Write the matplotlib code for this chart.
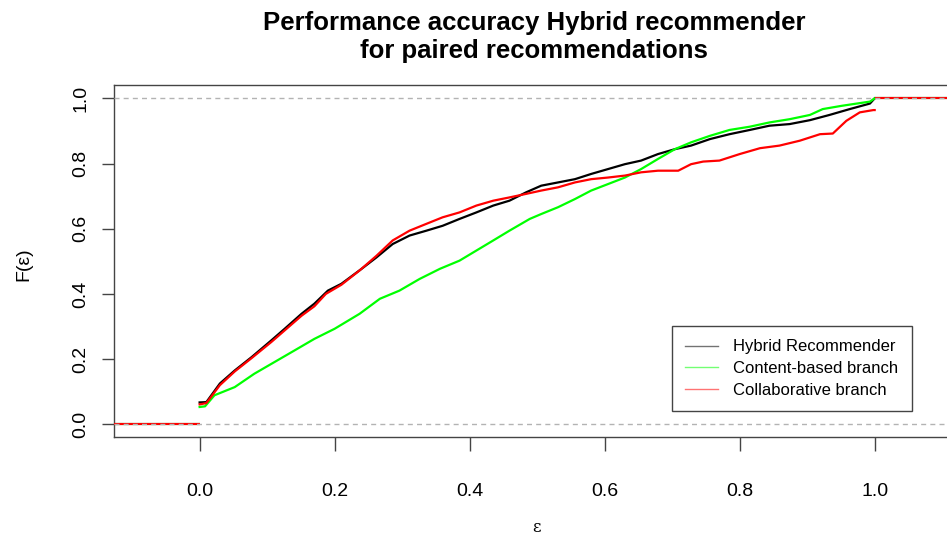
import matplotlib
matplotlib.use("Agg")
import matplotlib.pyplot as plt
from matplotlib.lines import Line2D

# ---------------- data ----------------
hybrid_x = [0.000, 0.010, 0.030, 0.052, 0.077, 0.106, 0.126, 0.151, 0.170, 0.190,
            0.210, 0.240, 0.262, 0.286, 0.311, 0.336, 0.360, 0.385, 0.410, 0.435,
            0.459, 0.484, 0.506, 0.531, 0.556, 0.580, 0.605, 0.630, 0.654, 0.679,
            0.704, 0.728, 0.756, 0.785, 0.815, 0.844, 0.874, 0.904, 0.933, 0.963,
            0.993, 1.000]
hybrid_F = [0.067, 0.068, 0.125, 0.165, 0.206, 0.257, 0.293, 0.339, 0.370, 0.410,
            0.431, 0.477, 0.512, 0.553, 0.579, 0.594, 0.609, 0.630, 0.650, 0.671,
            0.686, 0.712, 0.732, 0.742, 0.752, 0.768, 0.783, 0.798, 0.809, 0.829,
            0.844, 0.855, 0.875, 0.890, 0.903, 0.916, 0.921, 0.933, 0.949, 0.967,
            0.984, 1.000]

content_x = [0.000, 0.008, 0.022, 0.052, 0.081, 0.111, 0.141, 0.170, 0.200, 0.237,
             0.267, 0.296, 0.326, 0.356, 0.385, 0.410, 0.435, 0.459, 0.489, 0.506,
             0.531, 0.556, 0.580, 0.605, 0.630, 0.654, 0.679, 0.704, 0.728, 0.756,
             0.785, 0.815, 0.844, 0.874, 0.904, 0.923, 0.951, 0.993, 1.000]
content_F = [0.053, 0.055, 0.089, 0.114, 0.155, 0.191, 0.227, 0.262, 0.293, 0.339,
             0.385, 0.410, 0.446, 0.477, 0.502, 0.533, 0.564, 0.594, 0.630, 0.645,
             0.666, 0.691, 0.717, 0.737, 0.757, 0.783, 0.814, 0.844, 0.865, 0.885,
             0.903, 0.913, 0.926, 0.936, 0.949, 0.967, 0.977, 0.990, 1.000]

collab_x = [0.000, 0.010, 0.030, 0.052, 0.077, 0.106, 0.126, 0.151, 0.170, 0.187,
            0.210, 0.237, 0.262, 0.286, 0.311, 0.336, 0.360, 0.385, 0.410, 0.435,
            0.459, 0.484, 0.506, 0.531, 0.556, 0.580, 0.605, 0.630, 0.654, 0.679,
            0.709, 0.728, 0.746, 0.770, 0.800, 0.830, 0.859, 0.889, 0.919, 0.938,
            0.958, 0.978, 0.998, 1.000]
collab_F = [0.061, 0.065, 0.120, 0.162, 0.203, 0.252, 0.288, 0.333, 0.362, 0.400,
            0.428, 0.472, 0.517, 0.564, 0.594, 0.615, 0.635, 0.650, 0.671, 0.686,
            0.696, 0.707, 0.717, 0.727, 0.742, 0.752, 0.757, 0.763, 0.773, 0.778,
            0.778, 0.798, 0.806, 0.809, 0.829, 0.847, 0.855, 0.870, 0.890, 0.892,
            0.931, 0.957, 0.964, 0.964]

series_names = ["Hybrid Recommender", "Content-based branch", "Collaborative branch"]
series_colors = ["#000000", "#00ff00", "#ff0000"]
ticks = [0.0, 0.2, 0.4, 0.6, 0.8, 1.0]
tick_labels = ["0.0", "0.2", "0.4", "0.6", "0.8", "1.0"]
title_lines = ["Performance accuracy Hybrid recommender", "for paired recommendations"]

# ---------------- figure ----------------
plt.rcParams['font.family'] = ['Liberation Sans', 'DejaVu Sans']
W, H = 947, 540
fig = plt.figure(figsize=(W / 100, H / 100), dpi=100)
ax = fig.add_axes([114.3 / W, 1 - 437.3 / H, (960 - 114.3) / W, (437.3 - 85.3) / H])
ax.set_xlim(-0.1264, 1.1264)
ax.set_ylim(-0.04, 1.04)
xmin, xmax = ax.get_xlim()

def ecdf_draw(xs, Fs, color, z):
    ax.plot([xmin, xs[0]], [0, 0], color=color, lw=1.5, zorder=z, solid_capstyle='butt')
    ax.plot(xs, Fs, color=color, lw=1.6, zorder=z)
    ax.plot([xs[-1], xmax], [1, 1], color=color, lw=1.5, zorder=z, solid_capstyle='butt')

ecdf_draw(hybrid_x, hybrid_F, series_colors[0], 2)
ecdf_draw(content_x, content_F, series_colors[1], 3)
ecdf_draw(collab_x, collab_F, series_colors[2], 4)

for yv in (0, 1):
    ax.axhline(yv, color='#b3b3b3', lw=1.0, dashes=(3.6, 3.0), zorder=6)

ax.set_xticks(ticks)
ax.set_xticklabels(tick_labels, fontsize=14)
ax.set_yticks(ticks)
ax.set_yticklabels(tick_labels, fontsize=14, rotation=90, va='center')
ax.tick_params(axis='x', direction='out', length=10, width=1, color='#444444', pad=23)
ax.tick_params(axis='y', direction='out', length=9, width=1, color='#444444', pad=9)
for s in ax.spines.values():
    s.set_color('#444444')
    s.set_linewidth(1.0)

fig.text(534 / W, 1 - 30 / H, title_lines[0], ha='center', va='baseline',
         fontsize=18.5, fontweight='bold')
fig.text(534 / W, 1 - 58 / H, title_lines[1], ha='center', va='baseline',
         fontsize=18.5, fontweight='bold')
fig.text(537 / W, 1 - 527 / H, "ε", ha='center', va='center', fontsize=12,
         family=['DejaVu Serif'])
fig.text(24 / W, 1 - 264 / H, "F(ε)", ha='center', va='center', fontsize=14, rotation=90)

handles = [Line2D([0], [0], color=c, lw=1.0, alpha=0.55) for c in series_colors]
leg = fig.legend(handles, series_names, loc='upper left',
                 bbox_to_anchor=(671.7 / W, 1 - 326 / H), fontsize=12,
                 frameon=True, fancybox=False, edgecolor='#444444', framealpha=1,
                 handlelength=2.0, handletextpad=0.9, borderpad=0.8,
                 labelspacing=0.4, borderaxespad=0)
leg.get_frame().set_linewidth(1.0)

fig.savefig("out.png", dpi=100)
